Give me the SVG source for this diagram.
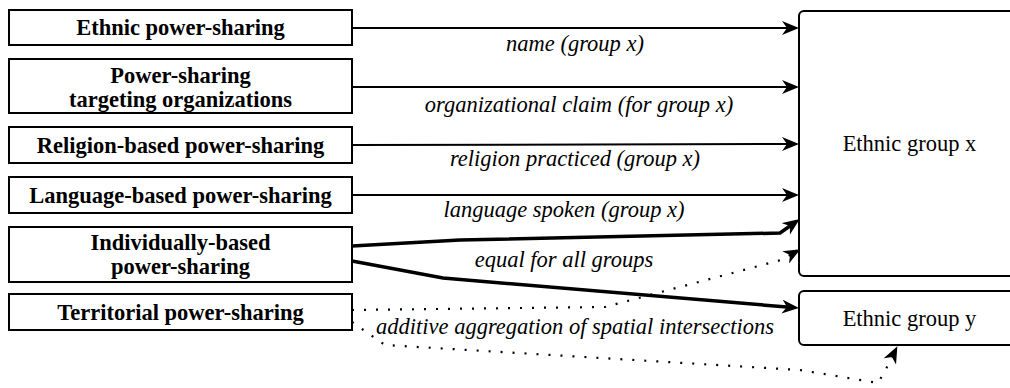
<svg xmlns="http://www.w3.org/2000/svg" width="1010" height="388" viewBox="0 0 1010 388">
  <style>
    .box { fill: #ffffff; stroke: #000000; stroke-width: 2; }
    text { font-family: 'Liberation Serif', 'DejaVu Serif', serif; font-size: 22.5px; text-anchor: middle; fill: #000000; }
    .src { font-weight: bold; }
    .lbl { font-style: italic; }
    .thin { fill: none; stroke: #000000; stroke-width: 2; marker-end: url(#head); }
    .thick { fill: none; stroke: #000000; stroke-width: 3.5; marker-end: url(#head); }
    .dots { fill: none; stroke: #000000; stroke-width: 2.2; stroke-dasharray: 2 10; marker-end: url(#head); }
  </style>
  <defs>
    <!-- classic notched arrowhead; ref point sits at the notch so the tip overhangs the line end -->
    <marker id="head" markerUnits="userSpaceOnUse" viewBox="0 0 18 14" markerWidth="18" markerHeight="14" refX="5" refY="7" orient="auto">
      <path d="M0,0 L17,7 L0,14 L5,7 Z" fill="#000000"/>
    </marker>
  </defs>

  <rect width="1010" height="388" fill="#ffffff"/>

  <!-- connectors -->
  <g id="connectors" font-family="Liberation Serif, DejaVu Serif, serif">
    <path class="thin" d="M352,28 L787,28"/>
    <path class="thin" d="M352,87 L787,87"/>
    <path class="thin" d="M352,145 L787,144"/>
    <path class="thin" d="M352,195 L787,195"/>
    <path class="thick" d="M352,246 L460,240 L780,233 L790,226"/>
    <path class="thick" d="M352,261 L443,278 L787,307"/>
    <path class="dots" d="M352,310 L605,307 L781,260 L790,255"/>
    <path class="dots" d="M352,322 L385,345 L800,370 L878,383 L886,369 L892,357"/>

    <text class="lbl" x="575" y="51">name (group x)</text>
    <text class="lbl" x="579" y="112">organizational claim (for group x)</text>
    <text class="lbl" x="575" y="166">religion practiced (group x)</text>
    <text class="lbl" x="564" y="217">language spoken (group x)</text>
    <text class="lbl" x="564" y="267">equal for all groups</text>
    <text class="lbl" x="575" y="334">additive aggregation of spatial intersections</text>
  </g>

  <!-- source nodes -->
  <g id="ethnic-ps">
    <rect class="box" x="9" y="10" width="343" height="35"/>
    <text class="src" x="180.5" y="35">Ethnic power-sharing</text>
  </g>
  <g id="org-ps">
    <rect class="box" x="9" y="59" width="343" height="54"/>
    <text class="src" x="180.5" y="83">Power-sharing</text>
    <text class="src" x="180.5" y="107">targeting organizations</text>
  </g>
  <g id="religion-ps">
    <rect class="box" x="9" y="127" width="343" height="36"/>
    <text class="src" x="180.5" y="153">Religion-based power-sharing</text>
  </g>
  <g id="language-ps">
    <rect class="box" x="9" y="177" width="343" height="36"/>
    <text class="src" x="180.5" y="203">Language-based power-sharing</text>
  </g>
  <g id="individual-ps">
    <rect class="box" x="9" y="227" width="343" height="55"/>
    <text class="src" x="180.5" y="250">Individually-based</text>
    <text class="src" x="180.5" y="274">power-sharing</text>
  </g>
  <g id="territorial-ps">
    <rect class="box" x="9" y="294" width="343" height="36"/>
    <text class="src" x="180.5" y="320">Territorial power-sharing</text>
  </g>

  <!-- target nodes -->
  <g id="group-x">
    <rect class="box" x="799" y="11" width="230" height="265" rx="5" ry="5"/>
    <text x="909.5" y="151">Ethnic group x</text>
  </g>
  <g id="group-y">
    <rect class="box" x="799" y="291" width="230" height="54" rx="5" ry="5"/>
    <text x="909.5" y="326">Ethnic group y</text>
  </g>
</svg>
